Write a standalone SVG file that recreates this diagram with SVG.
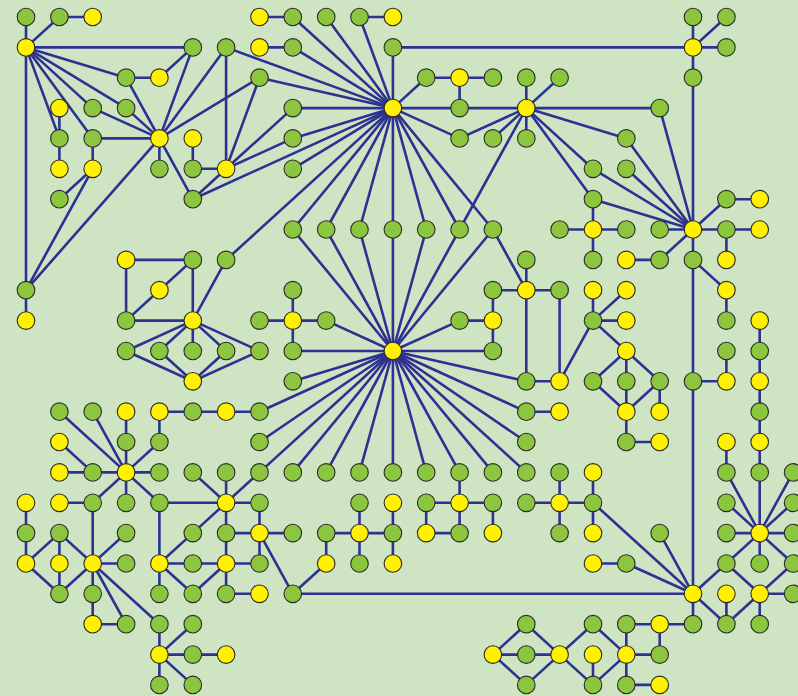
<svg xmlns="http://www.w3.org/2000/svg" width="798" height="696" viewBox="0 0 798 696">
<style>
.bg{fill:#cee4c2}
#edges line{stroke:#2e3192;stroke-width:2.6;stroke-linecap:round}
.g{fill:#8cc63f;stroke:#2b2b2b;stroke-width:1.1}
.y{fill:#fff100;stroke:#2b2b2b;stroke-width:1.1}
</style>
<rect class="bg" x="0" y="0" width="798" height="696"/>
<g id="edges">
<line x1="26" y1="17" x2="26" y2="47.4"/>
<line x1="59.4" y1="17" x2="26" y2="47.4"/>
<line x1="59.4" y1="17" x2="92.7" y2="17"/>
<line x1="26" y1="47.4" x2="192.8" y2="47.4"/>
<line x1="26" y1="47.4" x2="126.1" y2="77.7"/>
<line x1="26" y1="47.4" x2="126.1" y2="108.1"/>
<line x1="26" y1="47.4" x2="92.7" y2="108.1"/>
<line x1="26" y1="47.4" x2="92.7" y2="138.4"/>
<line x1="26" y1="47.4" x2="59.4" y2="138.4"/>
<line x1="26" y1="47.4" x2="26" y2="290.2"/>
<line x1="192.8" y1="47.4" x2="159.4" y2="77.7"/>
<line x1="192.8" y1="47.4" x2="159.4" y2="138.4"/>
<line x1="126.1" y1="77.7" x2="159.4" y2="77.7"/>
<line x1="126.1" y1="77.7" x2="159.4" y2="138.4"/>
<line x1="126.1" y1="108.1" x2="159.4" y2="138.4"/>
<line x1="92.7" y1="108.1" x2="159.4" y2="138.4"/>
<line x1="92.7" y1="138.4" x2="159.4" y2="138.4"/>
<line x1="59.4" y1="108.1" x2="59.4" y2="168.8"/>
<line x1="92.7" y1="138.4" x2="92.7" y2="168.8"/>
<line x1="92.7" y1="168.8" x2="59.4" y2="199.2"/>
<line x1="92.7" y1="168.8" x2="26" y2="290.2"/>
<line x1="159.4" y1="138.4" x2="26" y2="290.2"/>
<line x1="159.4" y1="138.4" x2="159.4" y2="168.8"/>
<line x1="159.4" y1="138.4" x2="192.8" y2="199.2"/>
<line x1="159.4" y1="138.4" x2="226.1" y2="47.4"/>
<line x1="159.4" y1="138.4" x2="259.5" y2="77.7"/>
<line x1="192.8" y1="138.4" x2="192.8" y2="168.8"/>
<line x1="192.8" y1="168.8" x2="226.1" y2="168.8"/>
<line x1="192.8" y1="199.2" x2="226.1" y2="168.8"/>
<line x1="192.8" y1="199.2" x2="392.9" y2="108.1"/>
<line x1="226.1" y1="47.4" x2="226.1" y2="168.8"/>
<line x1="226.1" y1="47.4" x2="392.9" y2="108.1"/>
<line x1="259.5" y1="77.7" x2="226.1" y2="168.8"/>
<line x1="259.5" y1="77.7" x2="392.9" y2="108.1"/>
<line x1="226.1" y1="168.8" x2="292.8" y2="108.1"/>
<line x1="226.1" y1="168.8" x2="292.8" y2="138.4"/>
<line x1="292.8" y1="108.1" x2="392.9" y2="108.1"/>
<line x1="292.8" y1="138.4" x2="392.9" y2="108.1"/>
<line x1="292.8" y1="168.8" x2="392.9" y2="108.1"/>
<line x1="259.5" y1="17" x2="292.8" y2="17"/>
<line x1="292.8" y1="17" x2="392.9" y2="108.1"/>
<line x1="326.2" y1="17" x2="392.9" y2="108.1"/>
<line x1="359.5" y1="17" x2="392.9" y2="17"/>
<line x1="359.5" y1="17" x2="392.9" y2="108.1"/>
<line x1="259.5" y1="47.4" x2="292.8" y2="47.4"/>
<line x1="292.8" y1="47.4" x2="392.9" y2="108.1"/>
<line x1="392.9" y1="47.4" x2="392.9" y2="108.1"/>
<line x1="392.9" y1="47.4" x2="693" y2="47.4"/>
<line x1="426.2" y1="77.7" x2="392.9" y2="108.1"/>
<line x1="426.2" y1="77.7" x2="492.9" y2="77.7"/>
<line x1="459.6" y1="77.7" x2="459.6" y2="108.1"/>
<line x1="392.9" y1="108.1" x2="659.7" y2="108.1"/>
<line x1="392.9" y1="108.1" x2="459.6" y2="138.4"/>
<line x1="459.6" y1="138.4" x2="526.3" y2="108.1"/>
<line x1="492.9" y1="138.4" x2="526.3" y2="108.1"/>
<line x1="526.3" y1="138.4" x2="526.3" y2="77.7"/>
<line x1="559.6" y1="77.7" x2="526.3" y2="108.1"/>
<line x1="526.3" y1="108.1" x2="459.6" y2="229.5"/>
<line x1="526.3" y1="108.1" x2="593" y2="168.8"/>
<line x1="526.3" y1="108.1" x2="593" y2="199.2"/>
<line x1="526.3" y1="108.1" x2="626.3" y2="138.4"/>
<line x1="392.9" y1="108.1" x2="392.9" y2="229.5"/>
<line x1="392.9" y1="108.1" x2="292.8" y2="229.5"/>
<line x1="392.9" y1="108.1" x2="326.2" y2="229.5"/>
<line x1="392.9" y1="108.1" x2="359.5" y2="229.5"/>
<line x1="392.9" y1="108.1" x2="426.2" y2="229.5"/>
<line x1="392.9" y1="108.1" x2="459.6" y2="229.5"/>
<line x1="392.9" y1="108.1" x2="492.9" y2="229.5"/>
<line x1="392.9" y1="108.1" x2="226.1" y2="259.9"/>
<line x1="693" y1="17" x2="693" y2="229.5"/>
<line x1="726.4" y1="17" x2="693" y2="47.4"/>
<line x1="693" y1="47.4" x2="726.4" y2="47.4"/>
<line x1="626.3" y1="138.4" x2="693" y2="229.5"/>
<line x1="659.7" y1="108.1" x2="693" y2="229.5"/>
<line x1="593" y1="168.8" x2="693" y2="229.5"/>
<line x1="626.3" y1="168.8" x2="693" y2="229.5"/>
<line x1="593" y1="199.2" x2="693" y2="229.5"/>
<line x1="593" y1="199.2" x2="593" y2="259.9"/>
<line x1="559.6" y1="229.5" x2="626.3" y2="229.5"/>
<line x1="659.7" y1="229.5" x2="759.7" y2="229.5"/>
<line x1="693" y1="229.5" x2="726.4" y2="199.2"/>
<line x1="726.4" y1="199.2" x2="759.7" y2="199.2"/>
<line x1="693" y1="229.5" x2="693" y2="593.8"/>
<line x1="659.7" y1="259.9" x2="693" y2="229.5"/>
<line x1="626.3" y1="259.9" x2="659.7" y2="259.9"/>
<line x1="726.4" y1="229.5" x2="726.4" y2="259.9"/>
<line x1="693" y1="259.9" x2="726.4" y2="290.2"/>
<line x1="726.4" y1="290.2" x2="726.4" y2="320.6"/>
<line x1="693" y1="381.3" x2="726.4" y2="381.3"/>
<line x1="726.4" y1="351" x2="726.4" y2="381.3"/>
<line x1="759.7" y1="320.6" x2="759.7" y2="533.1"/>
<line x1="726.4" y1="442" x2="726.4" y2="472.4"/>
<line x1="126.1" y1="259.9" x2="192.8" y2="259.9"/>
<line x1="126.1" y1="259.9" x2="126.1" y2="320.6"/>
<line x1="126.1" y1="320.6" x2="159.4" y2="290.2"/>
<line x1="159.4" y1="290.2" x2="192.8" y2="259.9"/>
<line x1="192.8" y1="259.9" x2="192.8" y2="351"/>
<line x1="126.1" y1="320.6" x2="192.8" y2="320.6"/>
<line x1="226.1" y1="259.9" x2="192.8" y2="320.6"/>
<line x1="192.8" y1="320.6" x2="126.1" y2="351"/>
<line x1="192.8" y1="320.6" x2="159.4" y2="351"/>
<line x1="192.8" y1="320.6" x2="226.1" y2="351"/>
<line x1="192.8" y1="320.6" x2="259.5" y2="351"/>
<line x1="126.1" y1="351" x2="192.8" y2="381.3"/>
<line x1="159.4" y1="351" x2="192.8" y2="381.3"/>
<line x1="192.8" y1="381.3" x2="226.1" y2="351"/>
<line x1="192.8" y1="381.3" x2="259.5" y2="351"/>
<line x1="26" y1="290.2" x2="26" y2="320.6"/>
<line x1="292.8" y1="290.2" x2="292.8" y2="351"/>
<line x1="259.5" y1="320.6" x2="326.2" y2="320.6"/>
<line x1="292.8" y1="351" x2="392.9" y2="351"/>
<line x1="326.2" y1="320.6" x2="392.9" y2="351"/>
<line x1="292.8" y1="381.3" x2="392.9" y2="351"/>
<line x1="159.4" y1="411.7" x2="259.5" y2="411.7"/>
<line x1="259.5" y1="411.7" x2="392.9" y2="351"/>
<line x1="259.5" y1="442" x2="392.9" y2="351"/>
<line x1="292.8" y1="229.5" x2="392.9" y2="351"/>
<line x1="326.2" y1="229.5" x2="392.9" y2="351"/>
<line x1="359.5" y1="229.5" x2="392.9" y2="351"/>
<line x1="392.9" y1="229.5" x2="392.9" y2="351"/>
<line x1="426.2" y1="229.5" x2="392.9" y2="351"/>
<line x1="459.6" y1="229.5" x2="392.9" y2="351"/>
<line x1="492.9" y1="229.5" x2="392.9" y2="351"/>
<line x1="492.9" y1="229.5" x2="526.3" y2="290.2"/>
<line x1="526.3" y1="259.9" x2="526.3" y2="381.3"/>
<line x1="492.9" y1="290.2" x2="559.6" y2="290.2"/>
<line x1="492.9" y1="290.2" x2="492.9" y2="351"/>
<line x1="459.6" y1="320.6" x2="492.9" y2="320.6"/>
<line x1="459.6" y1="320.6" x2="392.9" y2="351"/>
<line x1="492.9" y1="351" x2="392.9" y2="351"/>
<line x1="559.6" y1="290.2" x2="559.6" y2="381.3"/>
<line x1="526.3" y1="381.3" x2="559.6" y2="381.3"/>
<line x1="559.6" y1="381.3" x2="593" y2="320.6"/>
<line x1="526.3" y1="381.3" x2="392.9" y2="351"/>
<line x1="526.3" y1="411.7" x2="559.6" y2="411.7"/>
<line x1="526.3" y1="411.7" x2="392.9" y2="351"/>
<line x1="526.3" y1="442" x2="392.9" y2="351"/>
<line x1="392.9" y1="351" x2="259.5" y2="472.4"/>
<line x1="392.9" y1="351" x2="292.8" y2="472.4"/>
<line x1="392.9" y1="351" x2="326.2" y2="472.4"/>
<line x1="392.9" y1="351" x2="359.5" y2="472.4"/>
<line x1="392.9" y1="351" x2="392.9" y2="472.4"/>
<line x1="392.9" y1="351" x2="426.2" y2="472.4"/>
<line x1="392.9" y1="351" x2="459.6" y2="472.4"/>
<line x1="392.9" y1="351" x2="492.9" y2="472.4"/>
<line x1="392.9" y1="351" x2="526.3" y2="472.4"/>
<line x1="593" y1="290.2" x2="593" y2="320.6"/>
<line x1="593" y1="320.6" x2="626.3" y2="290.2"/>
<line x1="593" y1="320.6" x2="626.3" y2="320.6"/>
<line x1="593" y1="320.6" x2="626.3" y2="351"/>
<line x1="626.3" y1="351" x2="626.3" y2="442"/>
<line x1="626.3" y1="351" x2="659.7" y2="381.3"/>
<line x1="626.3" y1="351" x2="593" y2="381.3"/>
<line x1="593" y1="381.3" x2="626.3" y2="411.7"/>
<line x1="659.7" y1="381.3" x2="626.3" y2="411.7"/>
<line x1="659.7" y1="381.3" x2="659.7" y2="411.7"/>
<line x1="626.3" y1="442" x2="659.7" y2="442"/>
<line x1="59.4" y1="411.7" x2="126.1" y2="472.4"/>
<line x1="92.7" y1="411.7" x2="126.1" y2="472.4"/>
<line x1="126.1" y1="411.7" x2="126.1" y2="502.8"/>
<line x1="159.4" y1="411.7" x2="159.4" y2="442"/>
<line x1="159.4" y1="442" x2="126.1" y2="472.4"/>
<line x1="59.4" y1="442" x2="92.7" y2="472.4"/>
<line x1="59.4" y1="472.4" x2="159.4" y2="472.4"/>
<line x1="126.1" y1="472.4" x2="92.7" y2="502.8"/>
<line x1="126.1" y1="472.4" x2="159.4" y2="502.8"/>
<line x1="59.4" y1="502.8" x2="92.7" y2="502.8"/>
<line x1="92.7" y1="502.8" x2="92.7" y2="563.5"/>
<line x1="26" y1="502.8" x2="26" y2="563.5"/>
<line x1="26" y1="563.5" x2="59.4" y2="533.1"/>
<line x1="59.4" y1="533.1" x2="59.4" y2="593.8"/>
<line x1="59.4" y1="533.1" x2="92.7" y2="563.5"/>
<line x1="26" y1="563.5" x2="59.4" y2="593.8"/>
<line x1="59.4" y1="593.8" x2="92.7" y2="563.5"/>
<line x1="92.7" y1="563.5" x2="126.1" y2="533.1"/>
<line x1="92.7" y1="563.5" x2="126.1" y2="563.5"/>
<line x1="92.7" y1="563.5" x2="92.7" y2="624.2"/>
<line x1="92.7" y1="624.2" x2="126.1" y2="624.2"/>
<line x1="92.7" y1="563.5" x2="126.1" y2="624.2"/>
<line x1="92.7" y1="563.5" x2="159.4" y2="624.2"/>
<line x1="159.4" y1="502.8" x2="159.4" y2="593.8"/>
<line x1="159.4" y1="502.8" x2="226.1" y2="502.8"/>
<line x1="159.4" y1="563.5" x2="192.8" y2="533.1"/>
<line x1="159.4" y1="563.5" x2="192.8" y2="563.5"/>
<line x1="159.4" y1="563.5" x2="192.8" y2="593.8"/>
<line x1="159.4" y1="624.2" x2="159.4" y2="684.9"/>
<line x1="159.4" y1="654.6" x2="192.8" y2="624.2"/>
<line x1="159.4" y1="654.6" x2="226.1" y2="654.6"/>
<line x1="159.4" y1="654.6" x2="192.8" y2="684.9"/>
<line x1="192.8" y1="472.4" x2="226.1" y2="502.8"/>
<line x1="226.1" y1="472.4" x2="226.1" y2="593.8"/>
<line x1="259.5" y1="472.4" x2="226.1" y2="502.8"/>
<line x1="226.1" y1="502.8" x2="259.5" y2="502.8"/>
<line x1="226.1" y1="502.8" x2="192.8" y2="533.1"/>
<line x1="259.5" y1="502.8" x2="259.5" y2="563.5"/>
<line x1="226.1" y1="533.1" x2="292.8" y2="533.1"/>
<line x1="192.8" y1="563.5" x2="259.5" y2="563.5"/>
<line x1="226.1" y1="563.5" x2="192.8" y2="593.8"/>
<line x1="226.1" y1="593.8" x2="259.5" y2="593.8"/>
<line x1="259.5" y1="533.1" x2="292.8" y2="593.8"/>
<line x1="292.8" y1="593.8" x2="326.2" y2="563.5"/>
<line x1="292.8" y1="593.8" x2="693" y2="593.8"/>
<line x1="326.2" y1="533.1" x2="326.2" y2="563.5"/>
<line x1="326.2" y1="533.1" x2="392.9" y2="533.1"/>
<line x1="359.5" y1="502.8" x2="359.5" y2="563.5"/>
<line x1="392.9" y1="502.8" x2="392.9" y2="563.5"/>
<line x1="459.6" y1="472.4" x2="459.6" y2="533.1"/>
<line x1="426.2" y1="502.8" x2="492.9" y2="502.8"/>
<line x1="426.2" y1="502.8" x2="426.2" y2="533.1"/>
<line x1="426.2" y1="533.1" x2="459.6" y2="533.1"/>
<line x1="492.9" y1="502.8" x2="492.9" y2="533.1"/>
<line x1="526.3" y1="502.8" x2="593" y2="502.8"/>
<line x1="559.6" y1="472.4" x2="559.6" y2="533.1"/>
<line x1="593" y1="472.4" x2="593" y2="533.1"/>
<line x1="593" y1="502.8" x2="693" y2="593.8"/>
<line x1="593" y1="563.5" x2="626.3" y2="563.5"/>
<line x1="626.3" y1="563.5" x2="693" y2="593.8"/>
<line x1="659.7" y1="533.1" x2="693" y2="593.8"/>
<line x1="693" y1="593.8" x2="693" y2="624.2"/>
<line x1="693" y1="593.8" x2="726.4" y2="624.2"/>
<line x1="726.4" y1="563.5" x2="693" y2="593.8"/>
<line x1="726.4" y1="472.4" x2="759.7" y2="533.1"/>
<line x1="793.1" y1="472.4" x2="759.7" y2="533.1"/>
<line x1="726.4" y1="502.8" x2="759.7" y2="533.1"/>
<line x1="793.1" y1="502.8" x2="759.7" y2="533.1"/>
<line x1="726.4" y1="533.1" x2="793.1" y2="533.1"/>
<line x1="759.7" y1="533.1" x2="759.7" y2="563.5"/>
<line x1="726.4" y1="563.5" x2="759.7" y2="533.1"/>
<line x1="793.1" y1="563.5" x2="759.7" y2="533.1"/>
<line x1="726.4" y1="563.5" x2="759.7" y2="593.8"/>
<line x1="793.1" y1="563.5" x2="759.7" y2="593.8"/>
<line x1="759.7" y1="593.8" x2="793.1" y2="593.8"/>
<line x1="759.7" y1="593.8" x2="759.7" y2="624.2"/>
<line x1="759.7" y1="593.8" x2="726.4" y2="624.2"/>
<line x1="726.4" y1="593.8" x2="726.4" y2="624.2"/>
<line x1="492.9" y1="654.6" x2="526.3" y2="624.2"/>
<line x1="492.9" y1="654.6" x2="559.6" y2="654.6"/>
<line x1="492.9" y1="654.6" x2="526.3" y2="684.9"/>
<line x1="526.3" y1="624.2" x2="559.6" y2="654.6"/>
<line x1="526.3" y1="684.9" x2="559.6" y2="654.6"/>
<line x1="559.6" y1="654.6" x2="593" y2="624.2"/>
<line x1="559.6" y1="654.6" x2="593" y2="684.9"/>
<line x1="593" y1="654.6" x2="593" y2="684.9"/>
<line x1="593" y1="624.2" x2="626.3" y2="654.6"/>
<line x1="593" y1="684.9" x2="626.3" y2="654.6"/>
<line x1="626.3" y1="624.2" x2="693" y2="624.2"/>
<line x1="626.3" y1="624.2" x2="626.3" y2="684.9"/>
<line x1="659.7" y1="624.2" x2="659.7" y2="654.6"/>
<line x1="626.3" y1="654.6" x2="659.7" y2="654.6"/>
<line x1="626.3" y1="684.9" x2="659.7" y2="684.9"/>
</g>
<g id="nodes">
<g id="n0_0"><circle class="g" cx="26" cy="17" r="8.8"/></g>
<g id="n1_0"><circle class="g" cx="59.4" cy="17" r="8.8"/></g>
<g id="n2_0"><circle class="y" cx="92.7" cy="17" r="8.8"/></g>
<g id="n7_0"><circle class="y" cx="259.5" cy="17" r="8.8"/></g>
<g id="n8_0"><circle class="g" cx="292.8" cy="17" r="8.8"/></g>
<g id="n9_0"><circle class="g" cx="326.2" cy="17" r="8.8"/></g>
<g id="n10_0"><circle class="g" cx="359.5" cy="17" r="8.8"/></g>
<g id="n11_0"><circle class="y" cx="392.9" cy="17" r="8.8"/></g>
<g id="n20_0"><circle class="g" cx="693" cy="17" r="8.8"/></g>
<g id="n21_0"><circle class="g" cx="726.4" cy="17" r="8.8"/></g>
<g id="n0_1"><circle class="y" cx="26" cy="47.4" r="8.8"/></g>
<g id="n5_1"><circle class="g" cx="192.8" cy="47.4" r="8.8"/></g>
<g id="n6_1"><circle class="g" cx="226.1" cy="47.4" r="8.8"/></g>
<g id="n7_1"><circle class="y" cx="259.5" cy="47.4" r="8.8"/></g>
<g id="n8_1"><circle class="g" cx="292.8" cy="47.4" r="8.8"/></g>
<g id="n11_1"><circle class="g" cx="392.9" cy="47.4" r="8.8"/></g>
<g id="n20_1"><circle class="y" cx="693" cy="47.4" r="8.8"/></g>
<g id="n21_1"><circle class="g" cx="726.4" cy="47.4" r="8.8"/></g>
<g id="n3_2"><circle class="g" cx="126.1" cy="77.7" r="8.8"/></g>
<g id="n4_2"><circle class="y" cx="159.4" cy="77.7" r="8.8"/></g>
<g id="n7_2"><circle class="g" cx="259.5" cy="77.7" r="8.8"/></g>
<g id="n12_2"><circle class="g" cx="426.2" cy="77.7" r="8.8"/></g>
<g id="n13_2"><circle class="y" cx="459.6" cy="77.7" r="8.8"/></g>
<g id="n14_2"><circle class="g" cx="492.9" cy="77.7" r="8.8"/></g>
<g id="n15_2"><circle class="g" cx="526.3" cy="77.7" r="8.8"/></g>
<g id="n16_2"><circle class="g" cx="559.6" cy="77.7" r="8.8"/></g>
<g id="n20_2"><circle class="g" cx="693" cy="77.7" r="8.8"/></g>
<g id="n1_3"><circle class="y" cx="59.4" cy="108.1" r="8.8"/></g>
<g id="n2_3"><circle class="g" cx="92.7" cy="108.1" r="8.8"/></g>
<g id="n3_3"><circle class="g" cx="126.1" cy="108.1" r="8.8"/></g>
<g id="n8_3"><circle class="g" cx="292.8" cy="108.1" r="8.8"/></g>
<g id="n11_3"><circle class="y" cx="392.9" cy="108.1" r="8.8"/></g>
<g id="n13_3"><circle class="g" cx="459.6" cy="108.1" r="8.8"/></g>
<g id="n15_3"><circle class="y" cx="526.3" cy="108.1" r="8.8"/></g>
<g id="n19_3"><circle class="g" cx="659.7" cy="108.1" r="8.8"/></g>
<g id="n1_4"><circle class="g" cx="59.4" cy="138.4" r="8.8"/></g>
<g id="n2_4"><circle class="g" cx="92.7" cy="138.4" r="8.8"/></g>
<g id="n4_4"><circle class="y" cx="159.4" cy="138.4" r="8.8"/></g>
<g id="n5_4"><circle class="y" cx="192.8" cy="138.4" r="8.8"/></g>
<g id="n8_4"><circle class="g" cx="292.8" cy="138.4" r="8.8"/></g>
<g id="n13_4"><circle class="g" cx="459.6" cy="138.4" r="8.8"/></g>
<g id="n14_4"><circle class="g" cx="492.9" cy="138.4" r="8.8"/></g>
<g id="n15_4"><circle class="g" cx="526.3" cy="138.4" r="8.8"/></g>
<g id="n18_4"><circle class="g" cx="626.3" cy="138.4" r="8.8"/></g>
<g id="n1_5"><circle class="y" cx="59.4" cy="168.8" r="8.8"/></g>
<g id="n2_5"><circle class="y" cx="92.7" cy="168.8" r="8.8"/></g>
<g id="n4_5"><circle class="g" cx="159.4" cy="168.8" r="8.8"/></g>
<g id="n5_5"><circle class="g" cx="192.8" cy="168.8" r="8.8"/></g>
<g id="n6_5"><circle class="y" cx="226.1" cy="168.8" r="8.8"/></g>
<g id="n8_5"><circle class="g" cx="292.8" cy="168.8" r="8.8"/></g>
<g id="n17_5"><circle class="g" cx="593" cy="168.8" r="8.8"/></g>
<g id="n18_5"><circle class="g" cx="626.3" cy="168.8" r="8.8"/></g>
<g id="n1_6"><circle class="g" cx="59.4" cy="199.2" r="8.8"/></g>
<g id="n5_6"><circle class="g" cx="192.8" cy="199.2" r="8.8"/></g>
<g id="n17_6"><circle class="g" cx="593" cy="199.2" r="8.8"/></g>
<g id="n21_6"><circle class="g" cx="726.4" cy="199.2" r="8.8"/></g>
<g id="n22_6"><circle class="y" cx="759.7" cy="199.2" r="8.8"/></g>
<g id="n8_7"><circle class="g" cx="292.8" cy="229.5" r="8.8"/></g>
<g id="n9_7"><circle class="g" cx="326.2" cy="229.5" r="8.8"/></g>
<g id="n10_7"><circle class="g" cx="359.5" cy="229.5" r="8.8"/></g>
<g id="n11_7"><circle class="g" cx="392.9" cy="229.5" r="8.8"/></g>
<g id="n12_7"><circle class="g" cx="426.2" cy="229.5" r="8.8"/></g>
<g id="n13_7"><circle class="g" cx="459.6" cy="229.5" r="8.8"/></g>
<g id="n14_7"><circle class="g" cx="492.9" cy="229.5" r="8.8"/></g>
<g id="n16_7"><circle class="g" cx="559.6" cy="229.5" r="8.8"/></g>
<g id="n17_7"><circle class="y" cx="593" cy="229.5" r="8.8"/></g>
<g id="n18_7"><circle class="g" cx="626.3" cy="229.5" r="8.8"/></g>
<g id="n19_7"><circle class="g" cx="659.7" cy="229.5" r="8.8"/></g>
<g id="n20_7"><circle class="y" cx="693" cy="229.5" r="8.8"/></g>
<g id="n21_7"><circle class="g" cx="726.4" cy="229.5" r="8.8"/></g>
<g id="n22_7"><circle class="y" cx="759.7" cy="229.5" r="8.8"/></g>
<g id="n3_8"><circle class="y" cx="126.1" cy="259.9" r="8.8"/></g>
<g id="n5_8"><circle class="g" cx="192.8" cy="259.9" r="8.8"/></g>
<g id="n6_8"><circle class="g" cx="226.1" cy="259.9" r="8.8"/></g>
<g id="n15_8"><circle class="g" cx="526.3" cy="259.9" r="8.8"/></g>
<g id="n17_8"><circle class="g" cx="593" cy="259.9" r="8.8"/></g>
<g id="n18_8"><circle class="y" cx="626.3" cy="259.9" r="8.8"/></g>
<g id="n19_8"><circle class="g" cx="659.7" cy="259.9" r="8.8"/></g>
<g id="n20_8"><circle class="g" cx="693" cy="259.9" r="8.8"/></g>
<g id="n21_8"><circle class="y" cx="726.4" cy="259.9" r="8.8"/></g>
<g id="n0_9"><circle class="g" cx="26" cy="290.2" r="8.8"/></g>
<g id="n4_9"><circle class="y" cx="159.4" cy="290.2" r="8.8"/></g>
<g id="n8_9"><circle class="g" cx="292.8" cy="290.2" r="8.8"/></g>
<g id="n14_9"><circle class="g" cx="492.9" cy="290.2" r="8.8"/></g>
<g id="n15_9"><circle class="y" cx="526.3" cy="290.2" r="8.8"/></g>
<g id="n16_9"><circle class="g" cx="559.6" cy="290.2" r="8.8"/></g>
<g id="n17_9"><circle class="y" cx="593" cy="290.2" r="8.8"/></g>
<g id="n18_9"><circle class="y" cx="626.3" cy="290.2" r="8.8"/></g>
<g id="n21_9"><circle class="y" cx="726.4" cy="290.2" r="8.8"/></g>
<g id="n0_10"><circle class="y" cx="26" cy="320.6" r="8.8"/></g>
<g id="n3_10"><circle class="g" cx="126.1" cy="320.6" r="8.8"/></g>
<g id="n5_10"><circle class="y" cx="192.8" cy="320.6" r="8.8"/></g>
<g id="n7_10"><circle class="g" cx="259.5" cy="320.6" r="8.8"/></g>
<g id="n8_10"><circle class="y" cx="292.8" cy="320.6" r="8.8"/></g>
<g id="n9_10"><circle class="g" cx="326.2" cy="320.6" r="8.8"/></g>
<g id="n13_10"><circle class="g" cx="459.6" cy="320.6" r="8.8"/></g>
<g id="n14_10"><circle class="y" cx="492.9" cy="320.6" r="8.8"/></g>
<g id="n17_10"><circle class="g" cx="593" cy="320.6" r="8.8"/></g>
<g id="n18_10"><circle class="y" cx="626.3" cy="320.6" r="8.8"/></g>
<g id="n21_10"><circle class="g" cx="726.4" cy="320.6" r="8.8"/></g>
<g id="n22_10"><circle class="y" cx="759.7" cy="320.6" r="8.8"/></g>
<g id="n3_11"><circle class="g" cx="126.1" cy="351" r="8.8"/></g>
<g id="n4_11"><circle class="g" cx="159.4" cy="351" r="8.8"/></g>
<g id="n5_11"><circle class="g" cx="192.8" cy="351" r="8.8"/></g>
<g id="n6_11"><circle class="g" cx="226.1" cy="351" r="8.8"/></g>
<g id="n7_11"><circle class="g" cx="259.5" cy="351" r="8.8"/></g>
<g id="n8_11"><circle class="g" cx="292.8" cy="351" r="8.8"/></g>
<g id="n11_11"><circle class="y" cx="392.9" cy="351" r="8.8"/></g>
<g id="n14_11"><circle class="g" cx="492.9" cy="351" r="8.8"/></g>
<g id="n18_11"><circle class="y" cx="626.3" cy="351" r="8.8"/></g>
<g id="n21_11"><circle class="g" cx="726.4" cy="351" r="8.8"/></g>
<g id="n22_11"><circle class="g" cx="759.7" cy="351" r="8.8"/></g>
<g id="n5_12"><circle class="y" cx="192.8" cy="381.3" r="8.8"/></g>
<g id="n8_12"><circle class="g" cx="292.8" cy="381.3" r="8.8"/></g>
<g id="n15_12"><circle class="g" cx="526.3" cy="381.3" r="8.8"/></g>
<g id="n16_12"><circle class="y" cx="559.6" cy="381.3" r="8.8"/></g>
<g id="n17_12"><circle class="g" cx="593" cy="381.3" r="8.8"/></g>
<g id="n18_12"><circle class="g" cx="626.3" cy="381.3" r="8.8"/></g>
<g id="n19_12"><circle class="g" cx="659.7" cy="381.3" r="8.8"/></g>
<g id="n20_12"><circle class="g" cx="693" cy="381.3" r="8.8"/></g>
<g id="n21_12"><circle class="y" cx="726.4" cy="381.3" r="8.8"/></g>
<g id="n22_12"><circle class="y" cx="759.7" cy="381.3" r="8.8"/></g>
<g id="n1_13"><circle class="g" cx="59.4" cy="411.7" r="8.8"/></g>
<g id="n2_13"><circle class="g" cx="92.7" cy="411.7" r="8.8"/></g>
<g id="n3_13"><circle class="y" cx="126.1" cy="411.7" r="8.8"/></g>
<g id="n4_13"><circle class="y" cx="159.4" cy="411.7" r="8.8"/></g>
<g id="n5_13"><circle class="g" cx="192.8" cy="411.7" r="8.8"/></g>
<g id="n6_13"><circle class="y" cx="226.1" cy="411.7" r="8.8"/></g>
<g id="n7_13"><circle class="g" cx="259.5" cy="411.7" r="8.8"/></g>
<g id="n15_13"><circle class="g" cx="526.3" cy="411.7" r="8.8"/></g>
<g id="n16_13"><circle class="y" cx="559.6" cy="411.7" r="8.8"/></g>
<g id="n18_13"><circle class="y" cx="626.3" cy="411.7" r="8.8"/></g>
<g id="n19_13"><circle class="y" cx="659.7" cy="411.7" r="8.8"/></g>
<g id="n22_13"><circle class="g" cx="759.7" cy="411.7" r="8.8"/></g>
<g id="n1_14"><circle class="y" cx="59.4" cy="442" r="8.8"/></g>
<g id="n3_14"><circle class="g" cx="126.1" cy="442" r="8.8"/></g>
<g id="n4_14"><circle class="g" cx="159.4" cy="442" r="8.8"/></g>
<g id="n7_14"><circle class="g" cx="259.5" cy="442" r="8.8"/></g>
<g id="n15_14"><circle class="g" cx="526.3" cy="442" r="8.8"/></g>
<g id="n18_14"><circle class="g" cx="626.3" cy="442" r="8.8"/></g>
<g id="n19_14"><circle class="y" cx="659.7" cy="442" r="8.8"/></g>
<g id="n21_14"><circle class="y" cx="726.4" cy="442" r="8.8"/></g>
<g id="n22_14"><circle class="y" cx="759.7" cy="442" r="8.8"/></g>
<g id="n1_15"><circle class="y" cx="59.4" cy="472.4" r="8.8"/></g>
<g id="n2_15"><circle class="g" cx="92.7" cy="472.4" r="8.8"/></g>
<g id="n3_15"><circle class="y" cx="126.1" cy="472.4" r="8.8"/></g>
<g id="n4_15"><circle class="g" cx="159.4" cy="472.4" r="8.8"/></g>
<g id="n5_15"><circle class="g" cx="192.8" cy="472.4" r="8.8"/></g>
<g id="n6_15"><circle class="g" cx="226.1" cy="472.4" r="8.8"/></g>
<g id="n7_15"><circle class="g" cx="259.5" cy="472.4" r="8.8"/></g>
<g id="n8_15"><circle class="g" cx="292.8" cy="472.4" r="8.8"/></g>
<g id="n9_15"><circle class="g" cx="326.2" cy="472.4" r="8.8"/></g>
<g id="n10_15"><circle class="g" cx="359.5" cy="472.4" r="8.8"/></g>
<g id="n11_15"><circle class="g" cx="392.9" cy="472.4" r="8.8"/></g>
<g id="n12_15"><circle class="g" cx="426.2" cy="472.4" r="8.8"/></g>
<g id="n13_15"><circle class="g" cx="459.6" cy="472.4" r="8.8"/></g>
<g id="n14_15"><circle class="g" cx="492.9" cy="472.4" r="8.8"/></g>
<g id="n15_15"><circle class="g" cx="526.3" cy="472.4" r="8.8"/></g>
<g id="n16_15"><circle class="g" cx="559.6" cy="472.4" r="8.8"/></g>
<g id="n17_15"><circle class="y" cx="593" cy="472.4" r="8.8"/></g>
<g id="n21_15"><circle class="g" cx="726.4" cy="472.4" r="8.8"/></g>
<g id="n22_15"><circle class="g" cx="759.7" cy="472.4" r="8.8"/></g>
<g id="n23_15"><circle class="g" cx="793.1" cy="472.4" r="8.8"/></g>
<g id="n0_16"><circle class="y" cx="26" cy="502.8" r="8.8"/></g>
<g id="n1_16"><circle class="y" cx="59.4" cy="502.8" r="8.8"/></g>
<g id="n2_16"><circle class="g" cx="92.7" cy="502.8" r="8.8"/></g>
<g id="n3_16"><circle class="g" cx="126.1" cy="502.8" r="8.8"/></g>
<g id="n4_16"><circle class="g" cx="159.4" cy="502.8" r="8.8"/></g>
<g id="n6_16"><circle class="y" cx="226.1" cy="502.8" r="8.8"/></g>
<g id="n7_16"><circle class="g" cx="259.5" cy="502.8" r="8.8"/></g>
<g id="n10_16"><circle class="g" cx="359.5" cy="502.8" r="8.8"/></g>
<g id="n11_16"><circle class="y" cx="392.9" cy="502.8" r="8.8"/></g>
<g id="n12_16"><circle class="g" cx="426.2" cy="502.8" r="8.8"/></g>
<g id="n13_16"><circle class="y" cx="459.6" cy="502.8" r="8.8"/></g>
<g id="n14_16"><circle class="g" cx="492.9" cy="502.8" r="8.8"/></g>
<g id="n15_16"><circle class="g" cx="526.3" cy="502.8" r="8.8"/></g>
<g id="n16_16"><circle class="y" cx="559.6" cy="502.8" r="8.8"/></g>
<g id="n17_16"><circle class="g" cx="593" cy="502.8" r="8.8"/></g>
<g id="n21_16"><circle class="g" cx="726.4" cy="502.8" r="8.8"/></g>
<g id="n23_16"><circle class="g" cx="793.1" cy="502.8" r="8.8"/></g>
<g id="n0_17"><circle class="g" cx="26" cy="533.1" r="8.8"/></g>
<g id="n1_17"><circle class="g" cx="59.4" cy="533.1" r="8.8"/></g>
<g id="n3_17"><circle class="g" cx="126.1" cy="533.1" r="8.8"/></g>
<g id="n5_17"><circle class="g" cx="192.8" cy="533.1" r="8.8"/></g>
<g id="n6_17"><circle class="g" cx="226.1" cy="533.1" r="8.8"/></g>
<g id="n7_17"><circle class="y" cx="259.5" cy="533.1" r="8.8"/></g>
<g id="n8_17"><circle class="g" cx="292.8" cy="533.1" r="8.8"/></g>
<g id="n9_17"><circle class="g" cx="326.2" cy="533.1" r="8.8"/></g>
<g id="n10_17"><circle class="y" cx="359.5" cy="533.1" r="8.8"/></g>
<g id="n11_17"><circle class="g" cx="392.9" cy="533.1" r="8.8"/></g>
<g id="n12_17"><circle class="y" cx="426.2" cy="533.1" r="8.8"/></g>
<g id="n13_17"><circle class="g" cx="459.6" cy="533.1" r="8.8"/></g>
<g id="n14_17"><circle class="y" cx="492.9" cy="533.1" r="8.8"/></g>
<g id="n16_17"><circle class="g" cx="559.6" cy="533.1" r="8.8"/></g>
<g id="n17_17"><circle class="y" cx="593" cy="533.1" r="8.8"/></g>
<g id="n19_17"><circle class="g" cx="659.7" cy="533.1" r="8.8"/></g>
<g id="n21_17"><circle class="g" cx="726.4" cy="533.1" r="8.8"/></g>
<g id="n22_17"><circle class="y" cx="759.7" cy="533.1" r="8.8"/></g>
<g id="n23_17"><circle class="g" cx="793.1" cy="533.1" r="8.8"/></g>
<g id="n0_18"><circle class="y" cx="26" cy="563.5" r="8.8"/></g>
<g id="n1_18"><circle class="y" cx="59.4" cy="563.5" r="8.8"/></g>
<g id="n2_18"><circle class="y" cx="92.7" cy="563.5" r="8.8"/></g>
<g id="n3_18"><circle class="g" cx="126.1" cy="563.5" r="8.8"/></g>
<g id="n4_18"><circle class="y" cx="159.4" cy="563.5" r="8.8"/></g>
<g id="n5_18"><circle class="g" cx="192.8" cy="563.5" r="8.8"/></g>
<g id="n6_18"><circle class="y" cx="226.1" cy="563.5" r="8.8"/></g>
<g id="n7_18"><circle class="g" cx="259.5" cy="563.5" r="8.8"/></g>
<g id="n9_18"><circle class="y" cx="326.2" cy="563.5" r="8.8"/></g>
<g id="n10_18"><circle class="g" cx="359.5" cy="563.5" r="8.8"/></g>
<g id="n11_18"><circle class="y" cx="392.9" cy="563.5" r="8.8"/></g>
<g id="n17_18"><circle class="y" cx="593" cy="563.5" r="8.8"/></g>
<g id="n18_18"><circle class="g" cx="626.3" cy="563.5" r="8.8"/></g>
<g id="n21_18"><circle class="g" cx="726.4" cy="563.5" r="8.8"/></g>
<g id="n22_18"><circle class="g" cx="759.7" cy="563.5" r="8.8"/></g>
<g id="n23_18"><circle class="g" cx="793.1" cy="563.5" r="8.8"/></g>
<g id="n1_19"><circle class="g" cx="59.4" cy="593.8" r="8.8"/></g>
<g id="n2_19"><circle class="g" cx="92.7" cy="593.8" r="8.8"/></g>
<g id="n4_19"><circle class="g" cx="159.4" cy="593.8" r="8.8"/></g>
<g id="n5_19"><circle class="g" cx="192.8" cy="593.8" r="8.8"/></g>
<g id="n6_19"><circle class="g" cx="226.1" cy="593.8" r="8.8"/></g>
<g id="n7_19"><circle class="y" cx="259.5" cy="593.8" r="8.8"/></g>
<g id="n8_19"><circle class="g" cx="292.8" cy="593.8" r="8.8"/></g>
<g id="n20_19"><circle class="y" cx="693" cy="593.8" r="8.8"/></g>
<g id="n21_19"><circle class="y" cx="726.4" cy="593.8" r="8.8"/></g>
<g id="n22_19"><circle class="y" cx="759.7" cy="593.8" r="8.8"/></g>
<g id="n23_19"><circle class="g" cx="793.1" cy="593.8" r="8.8"/></g>
<g id="n2_20"><circle class="y" cx="92.7" cy="624.2" r="8.8"/></g>
<g id="n3_20"><circle class="g" cx="126.1" cy="624.2" r="8.8"/></g>
<g id="n4_20"><circle class="g" cx="159.4" cy="624.2" r="8.8"/></g>
<g id="n5_20"><circle class="g" cx="192.8" cy="624.2" r="8.8"/></g>
<g id="n15_20"><circle class="g" cx="526.3" cy="624.2" r="8.8"/></g>
<g id="n17_20"><circle class="g" cx="593" cy="624.2" r="8.8"/></g>
<g id="n18_20"><circle class="g" cx="626.3" cy="624.2" r="8.8"/></g>
<g id="n19_20"><circle class="y" cx="659.7" cy="624.2" r="8.8"/></g>
<g id="n20_20"><circle class="g" cx="693" cy="624.2" r="8.8"/></g>
<g id="n21_20"><circle class="g" cx="726.4" cy="624.2" r="8.8"/></g>
<g id="n22_20"><circle class="g" cx="759.7" cy="624.2" r="8.8"/></g>
<g id="n4_21"><circle class="y" cx="159.4" cy="654.6" r="8.8"/></g>
<g id="n5_21"><circle class="g" cx="192.8" cy="654.6" r="8.8"/></g>
<g id="n6_21"><circle class="y" cx="226.1" cy="654.6" r="8.8"/></g>
<g id="n14_21"><circle class="y" cx="492.9" cy="654.6" r="8.8"/></g>
<g id="n15_21"><circle class="g" cx="526.3" cy="654.6" r="8.8"/></g>
<g id="n16_21"><circle class="y" cx="559.6" cy="654.6" r="8.8"/></g>
<g id="n17_21"><circle class="y" cx="593" cy="654.6" r="8.8"/></g>
<g id="n18_21"><circle class="y" cx="626.3" cy="654.6" r="8.8"/></g>
<g id="n19_21"><circle class="g" cx="659.7" cy="654.6" r="8.8"/></g>
<g id="n4_22"><circle class="g" cx="159.4" cy="684.9" r="8.8"/></g>
<g id="n5_22"><circle class="g" cx="192.8" cy="684.9" r="8.8"/></g>
<g id="n15_22"><circle class="g" cx="526.3" cy="684.9" r="8.8"/></g>
<g id="n17_22"><circle class="g" cx="593" cy="684.9" r="8.8"/></g>
<g id="n18_22"><circle class="g" cx="626.3" cy="684.9" r="8.8"/></g>
<g id="n19_22"><circle class="y" cx="659.7" cy="684.9" r="8.8"/></g>
</g>
</svg>
